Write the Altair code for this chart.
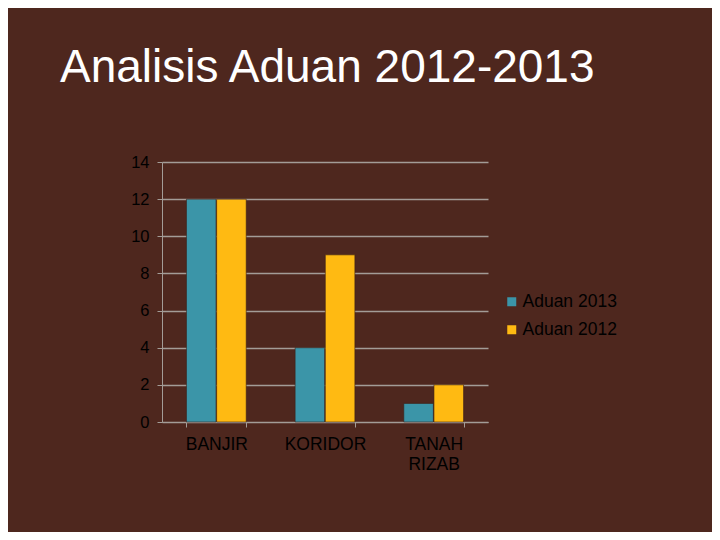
import altair as alt
import pandas as pd

categories = ["BANJIR", "KORIDOR", "TANAH RIZAB"]
series = ["Aduan 2013", "Aduan 2012"]
aduan_2013 = [12, 4, 1]
aduan_2012 = [12, 9, 2]
colors = ["#3B95A8", "#FFBA12"]

rows = []
for c, v13, v12 in zip(categories, aduan_2013, aduan_2012):
    rows.append({"kategori": c, "siri": series[0], "nilai": v13})
    rows.append({"kategori": c, "siri": series[1], "nilai": v12})
df = pd.DataFrame(rows)

BG = "#4E271E"
GRID = "#A39C97"
TXT = "#000000"

chart = alt.Chart(df).mark_bar(stroke="#3a2018", strokeWidth=0.6).encode(
    x=alt.X("kategori:N", sort=categories, title=None,
            scale=alt.Scale(paddingInner=0.45, paddingOuter=0.225),
            axis=alt.Axis(labelAngle=0, labelExpr="split(datum.label, ' ')",
                          tickBand="extent", labelPadding=8, labelFontSize=17.5,
                          labelColor=TXT, domainColor=GRID, tickColor=GRID,
                          tickSize=5, labelLineHeight=20, grid=False)),
    xOffset=alt.XOffset("siri:N", sort=series, scale=alt.Scale(paddingInner=0.02)),
    y=alt.Y("nilai:Q", title=None,
            scale=alt.Scale(domain=[0, 14]),
            axis=alt.Axis(values=[0, 2, 4, 6, 8, 10, 12, 14], labelFontSize=16.5,
                          labelColor=TXT, domainColor=GRID, tickColor=GRID,
                          tickSize=5, labelPadding=8, gridColor=GRID, gridWidth=1.5)),
    color=alt.Color("siri:N", sort=series,
                    scale=alt.Scale(domain=series, range=colors),
                    legend=alt.Legend(title=None, orient="none", legendX=341, legendY=131,
                                      symbolType="square", symbolSize=81,
                                      symbolStrokeWidth=0, labelFontSize=17.5,
                                      labelColor=TXT, rowPadding=9, labelOffset=2)),
).properties(
    width=326,
    height=260,
    background=BG,
    padding={"left": 154, "top": 154, "right": 224, "bottom": 110},
    autosize=alt.AutoSizeParams(type="none"),
    title=alt.TitleParams("Analisis Aduan 2012-2013", anchor="start", frame="group",
                          fontSize=46, fontWeight="normal", color="#FFFFFF",
                          font="Liberation Sans", dx=-102, offset=62),
).configure(
    font="Liberation Sans"
).configure_view(
    stroke=None
)

chart.save("out.html", embed_options={"renderer": "svg", "actions": False})
